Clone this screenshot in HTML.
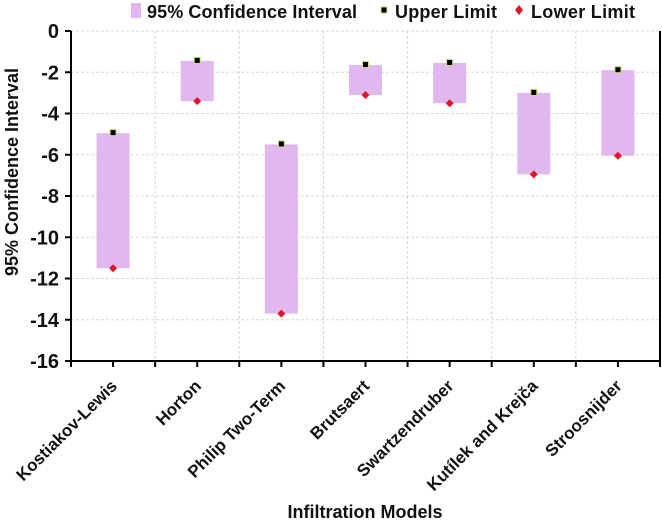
<!DOCTYPE html>
<html><head><meta charset="utf-8"><style>
body{margin:0;background:#fff}
text{font-family:"Liberation Sans",Arial,sans-serif;font-weight:bold;fill:#111}
</style></head><body>
<svg id="chart" width="662" height="523" viewBox="0 0 662 523" xmlns="http://www.w3.org/2000/svg">
<g id="grid"></g>
<g id="bars"></g>
<g id="axes"></g>
<g id="marks"></g>
<g id="legend">
  <rect x="131" y="3" width="10" height="15" fill="#e0b8ef"/>
  <text x="147" y="18" font-size="18" textLength="210">95% Confidence Interval</text>
  <rect x="381" y="7" width="6" height="6" fill="#000" stroke="#c9e26e" stroke-width="1"/>
  <text x="395" y="18" font-size="18" textLength="102">Upper Limit</text>
  <polygon points="519,5 523,10 519,15 515,10" fill="#e0152a"/>
  <text x="531" y="18" font-size="18" textLength="104">Lower Limit</text>
</g>
<text transform="translate(18,172) rotate(-90)" text-anchor="middle" font-size="18">95% Confidence Interval</text>
<text x="365" y="518" text-anchor="middle" font-size="18">Infiltration Models</text>
</svg>
<script>
const categories=["Kostiakov-Lewis","Horton","Philip Two-Term","Brutsaert","Swartzendruber","Kutílek and Krejča","Stroosnijder"];
const upperValues=[-4.95,-1.45,-5.5,-1.65,-1.55,-3.0,-1.9];
const lowerValues=[-11.5,-3.4,-13.7,-3.1,-3.5,-6.95,-6.05];
const yTicks=[0,-2,-4,-6,-8,-10,-12,-14,-16];
const NS="http://www.w3.org/2000/svg";
const L=71,R=660,T=31,B=361;
const cw=(R-L)/categories.length;
function y(v){return T+(0-v)/16*(B-T);}
function xc(i){return L+cw*(i+0.5);}
function mk(tag,attrs,parent){const e=document.createElementNS(NS,tag);for(const k in attrs)e.setAttribute(k,attrs[k]);parent.appendChild(e);return e;}
const grid=document.getElementById('grid'),bars=document.getElementById('bars'),axes=document.getElementById('axes'),marks=document.getElementById('marks');
yTicks.forEach(v=>{
  if(v>-16){const g=mk('line',{x1:L,x2:R,y1:y(v),y2:y(v),stroke:'#d8d8d8','stroke-dasharray':'3,2'},grid);
  
  }
  const t=mk('text',{x:L-12,y:y(v)+7,'text-anchor':'end','font-size':'20'},axes);t.textContent=v;
  
  
  const tk=mk('line',{x1:L-6,x2:L,y1:y(v),y2:y(v),stroke:'#000','stroke-width':2},axes);
  
  
});
for(let i=1;i<categories.length;i++){
  const gx=L+cw*i;
  const g=mk('line',{x1:gx,x2:gx,y1:T,y2:B,stroke:'#d8d8d8','stroke-dasharray':'3,2'},grid);
  
  
}
for(let i=0;i<=categories.length*2;i++){
  const tk=mk('line',{x1:L+cw*i/2,x2:L+cw*i/2,y1:B,y2:B+6,stroke:'#000','stroke-width':2},axes);
  
  
}
const ax=mk('path',{d:`M${L},${T} V${B} H${R} V${T}`,fill:'none',stroke:'#000','stroke-width':2},axes);


const bw=33;
categories.forEach((c,i)=>{
  const x=xc(i);
  const b=mk('rect',{x:x-bw/2,y:y(upperValues[i]),width:bw,height:y(lowerValues[i])-y(upperValues[i]),fill:'#e0b8ef'},bars);
  
  
  const u=mk('rect',{x:x-3,y:y(upperValues[i])-3.5,width:6,height:6,fill:'#000',stroke:'#c9e26e','stroke-width':1},marks);
  
  
  const ly=y(lowerValues[i]);
  const d=mk('polygon',{points:`${x},${ly-4} ${x+4},${ly} ${x},${ly+4} ${x-4},${ly}`,fill:'#e0152a'},marks);
  
  
  const t=mk('text',{transform:`translate(${x+5},${B+26}) rotate(-45)`,'text-anchor':'end','font-size':'17'},axes);
  t.textContent=c;
  
  
});
</script>
</body></html>
